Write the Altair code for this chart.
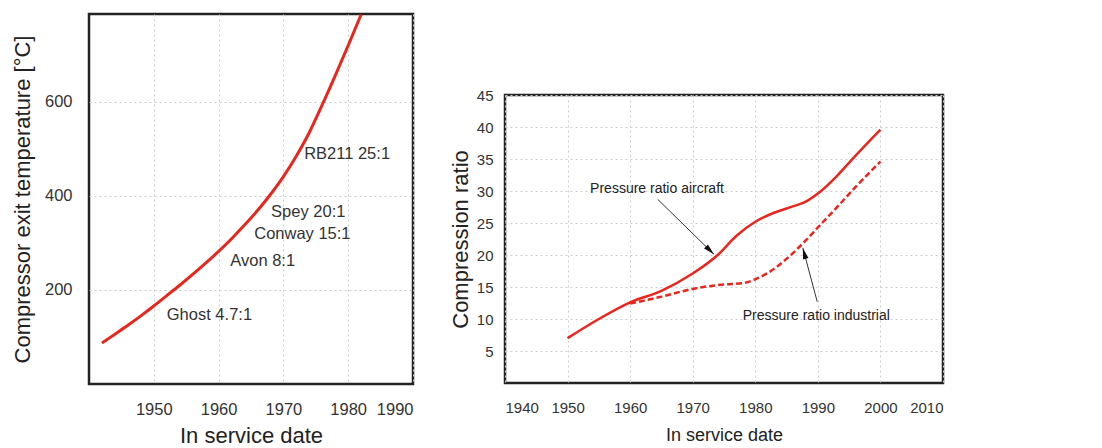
import math
import altair as alt
import pandas as pd

# ---------------- Left panel data ----------------
temp_years = [1942, 1944, 1946, 1948, 1950, 1952, 1954, 1956, 1958, 1960, 1962,
              1964, 1966, 1968, 1970, 1972, 1974, 1976, 1978, 1980, 1982]
temp_values = [87, 106, 125, 145, 166, 188, 210, 233, 257, 282, 309,
               338, 369, 403, 441, 485, 535, 594, 656, 720, 786]
engine_labels = ["Ghost 4.7:1", "Avon 8:1", "Conway 15:1", "Spey 20:1", "RB211 25:1"]
engine_label_years = [1952.0, 1961.8, 1965.5, 1968.1, 1973.2]
engine_label_temps = [147, 262, 319, 366, 489]
left_x_ticks = [1950, 1960, 1970, 1980, 1990]
left_y_ticks = [200, 400, 600]

# ---------------- Right panel data ----------------
aircraft_years = [1950, 1955, 1960, 1965, 1970, 1974, 1977, 1980, 1983, 1986, 1988, 1990, 1993, 1996, 2000]
aircraft_ratio = [7.0, 10.0, 12.6, 14.4, 17.1, 20.0, 23.0, 25.2, 26.6, 27.6, 28.3, 29.6, 32.3, 35.5, 39.6]
industrial_years = [1960, 1965, 1970, 1975, 1978, 1980, 1982, 1985, 1988, 1990, 1993, 1996, 2000]
industrial_ratio = [12.4, 13.5, 14.7, 15.4, 15.6, 16.2, 17.2, 19.4, 22.2, 24.3, 27.4, 30.6, 34.6]
annot_texts = ["Pressure ratio aircraft", "Pressure ratio industrial"]
annot_x = [1953.6, 1978.0]
annot_y = [30.25, 10.4]
arrow_x_start = [1964.4, 1989.9]
arrow_y_start = [28.7, 12.7]
arrow_x_end = [1973.4, 1987.6]
arrow_y_end = [20.1, 21.1]
right_x_ticks = [1940, 1950, 1960, 1970, 1980, 1990, 2000, 2010]
right_y_ticks = [5, 10, 15, 20, 25, 30, 35, 40, 45]

RED = "#e8261d"
FONT = "Liberation Sans, Arial, sans-serif"

LW, LH = 324, 370
RW, RH = 438, 288
R_XDOM = [1940, 2010]
R_YDOM = [0, 45]

grid_style = dict(grid=True, gridColor="#cccccc", gridDash=[2, 3], gridWidth=1,
                  ticks=False, domain=False, labelColor="#333333", titleColor="#222222",
                  titleFontWeight="normal", labelOverlap=False, labelFont=FONT, titleFont=FONT)

# ---------------- Left chart ----------------
df_temp = pd.DataFrame({"x": temp_years, "y": temp_values})
df_eng = pd.DataFrame({"x": engine_label_years, "y": engine_label_temps, "t": engine_labels})

lx = alt.X("x:Q", scale=alt.Scale(domain=[1940, 1990], nice=False, zero=False),
           axis=alt.Axis(values=left_x_ticks, format="d", title="In service date",
                         labelFontSize=16.5, labelPadding=17,
                         titleFontSize=22, titlePadding=8, **grid_style))
ly = alt.Y("y:Q", scale=alt.Scale(domain=[0, 787], nice=False, zero=False),
           axis=alt.Axis(values=left_y_ticks, format="d", title="Compressor exit temperature [°C]",
                         labelFontSize=16.5, labelPadding=17,
                         titleFontSize=22, titlePadding=10, **grid_style))

left_line = alt.Chart(df_temp).mark_line(color=RED, strokeWidth=3, interpolate="monotone",
                                         clip=True).encode(x=lx, y=ly)
left_text = alt.Chart(df_eng).mark_text(align="left", baseline="middle", font=FONT,
                                        fontSize=16.5, color="#333333").encode(
    x=alt.X("x:Q"), y=alt.Y("y:Q"), text="t:N")
left = alt.layer(left_line, left_text).properties(width=LW, height=LH)

# ---------------- Right chart ----------------
df_air = pd.DataFrame({"x": aircraft_years, "y": aircraft_ratio})
df_ind = pd.DataFrame({"x": industrial_years, "y": industrial_ratio})
df_ann = pd.DataFrame({"x": annot_x, "y": annot_y, "t": annot_texts})

sx = RW / (R_XDOM[1] - R_XDOM[0])
sy = RH / (R_YDOM[1] - R_YDOM[0])
angles = []
for x0, y0, x1, y1 in zip(arrow_x_start, arrow_y_start, arrow_x_end, arrow_y_end):
    dx = (x1 - x0) * sx
    dy = -(y1 - y0) * sy
    angles.append(math.degrees(math.atan2(dx, -dy)) % 360)
df_arr = pd.DataFrame({"x": arrow_x_start, "y": arrow_y_start, "x2": arrow_x_end,
                       "y2": arrow_y_end, "ang": angles})

rx = alt.X("x:Q", scale=alt.Scale(domain=R_XDOM, nice=False, zero=False),
           axis=alt.Axis(values=right_x_ticks, format="d", title="In service date",
                         labelFontSize=15, labelPadding=17,
                         titleFontSize=18, titlePadding=11, **grid_style))
ry = alt.Y("y:Q", scale=alt.Scale(domain=R_YDOM, nice=False, zero=False),
           axis=alt.Axis(values=right_y_ticks, format="d", title="Compression ratio",
                         labelFontSize=15, labelPadding=12, tickCount=9,
                         titleFontSize=22, titlePadding=4, **grid_style))

r_air = alt.Chart(df_air).mark_line(color=RED, strokeWidth=2.5, interpolate="monotone").encode(x=rx, y=ry)
r_ind = alt.Chart(df_ind).mark_line(color=RED, strokeWidth=2.5, strokeDash=[6, 3],
                                    interpolate="monotone").encode(x="x:Q", y="y:Q")
r_rule = alt.Chart(df_arr).mark_rule(color="#333333", strokeWidth=1).encode(
    x="x:Q", y="y:Q", x2="x2:Q", y2="y2:Q")
r_head = alt.Chart(df_arr).mark_point(shape="M0,0 L0.25,1 L-0.25,1 Z", filled=True, color="#111111",
                                      opacity=1, size=500).encode(
    x=alt.X("x2:Q"), y=alt.Y("y2:Q"), angle=alt.Angle("ang:Q", scale=None))
r_text = alt.Chart(df_ann).mark_text(align="left", baseline="middle", font=FONT,
                                     fontSize=14, color="#222222").encode(
    x="x:Q", y="y:Q", text="t:N")

right = alt.layer(r_air, r_ind, r_rule, r_head, r_text).properties(width=RW, height=RH)

spacer = alt.Chart(pd.DataFrame({"x": [0]})).mark_point(opacity=0).encode(
    x=alt.X("x:Q", axis=None), y=alt.Y("x:Q", axis=None)
).properties(width=RW, height=70, view=alt.ViewBackground(stroke="transparent"))

right_col = alt.vconcat(spacer, right, spacing=0)

chart = alt.hconcat(left, right_col, spacing=33).configure(
    padding={"left": 10, "top": 12, "right": 5, "bottom": 2}, background="white"
).configure_view(stroke="#222222", strokeWidth=2.5).configure_axis(labelOverlap=False)

chart.save("out.html", embed_options={"renderer": "svg", "actions": False})
